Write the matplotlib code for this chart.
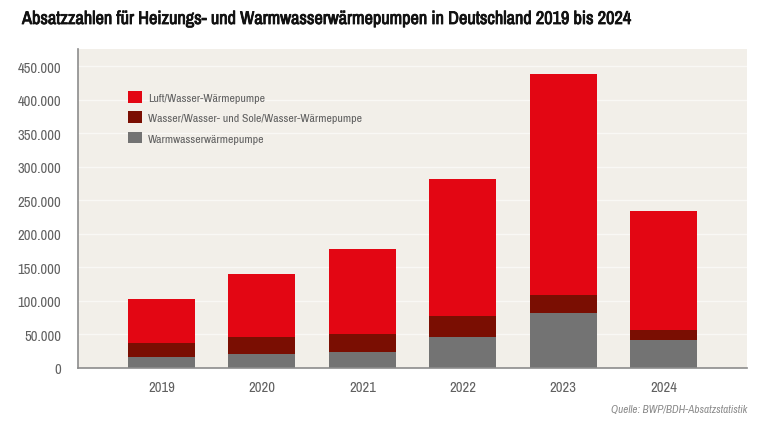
import matplotlib
matplotlib.use('Agg')
import matplotlib.pyplot as plt
import matplotlib.patheffects as pe
from matplotlib.ticker import FuncFormatter

plt.rcParams['font.family'] = ['Archivo Narrow', 'Liberation Sans', 'DejaVu Sans']

years = ['2019', '2020', '2021', '2022', '2023', '2024']
warmwasser = [16000, 20000, 23500, 46000, 82000, 41000]
sole_wasser = [20500, 25000, 26500, 30500, 26000, 15500]
luft_wasser = [65800, 95000, 127000, 205000, 330500, 178000]

labels = ['Luft/Wasser-Wärmepumpe',
          'Wasser/Wasser- und Sole/Wasser-Wärmepumpe',
          'Warmwasserwärmepumpe']
yticks = [0, 50000, 100000, 150000, 200000, 250000, 300000, 350000, 400000, 450000]

c_red = '#e30613'
c_dark = '#7a0e02'
c_gray = '#737373'
c_text = '#606060'
c_bg = '#f2efe9'

fig = plt.figure(figsize=(7.67, 4.31), dpi=100)
ax = fig.add_axes([78 / 767, 1 - 368.5 / 431, 669 / 767, 318.5 / 431])
ax.set_facecolor(c_bg)

x = list(range(len(years)))
w = 0.667
b_gray = ax.bar(x, warmwasser, w, color=c_gray, zorder=2)
b_dark = ax.bar(x, sole_wasser, w, bottom=warmwasser, color=c_dark, zorder=2)
bottom2 = [a + b for a, b in zip(warmwasser, sole_wasser)]
b_red = ax.bar(x, luft_wasser, w, bottom=bottom2, color=c_red, zorder=2)

ax.set_xlim(-0.833, 5.833)
ax.set_ylim(0, 476000)
ax.set_yticks(yticks)
ax.yaxis.set_major_formatter(FuncFormatter(lambda v, p: f'{int(v):,}'.replace(',', '.')))
ax.set_xticks(x)
ax.set_xticklabels(years)
ax.tick_params(axis='both', length=0, labelsize=10.5, colors=c_text)
ax.tick_params(axis='y', pad=12)
ax.tick_params(axis='x', pad=9)

ax.grid(axis='y', color='#f9f8f5', linewidth=1)
ax.set_axisbelow(True)

for s in ['top', 'right']:
    ax.spines[s].set_visible(False)
for s in ['left', 'bottom']:
    ax.spines[s].set_color('#8c8c8c')
    ax.spines[s].set_linewidth(1.2)

leg = ax.legend([b_red, b_dark, b_gray], labels, loc='upper left',
                bbox_to_anchor=(0.075, 0.868), frameon=False, fontsize=8.5,
                handlelength=1.15, handleheight=1.15, handletextpad=0.55,
                labelspacing=0.72, borderpad=0, borderaxespad=0)
for t in leg.get_texts():
    t.set_color(c_text)

# Archivo Narrow hat keinen Bold-Schnitt -> Kontur als Ersatz
fig.text(22 / 767, 1 - 20 / 431, 'Absatzzahlen für Heizungs- und Warmwasserwärmepumpen in Deutschland 2019 bis 2024',
         fontsize=13.2, color='#111111', ha='left', va='center',
         path_effects=[pe.withStroke(linewidth=0.6, foreground='#111111')])
fig.text(747 / 767, 1 - 410 / 431, 'Quelle: BWP/BDH-Absatzstatistik', fontsize=8,
         style='italic', color='#8a8a8a', ha='right', va='center')

fig.savefig('out.png', dpi=100, facecolor='white')
